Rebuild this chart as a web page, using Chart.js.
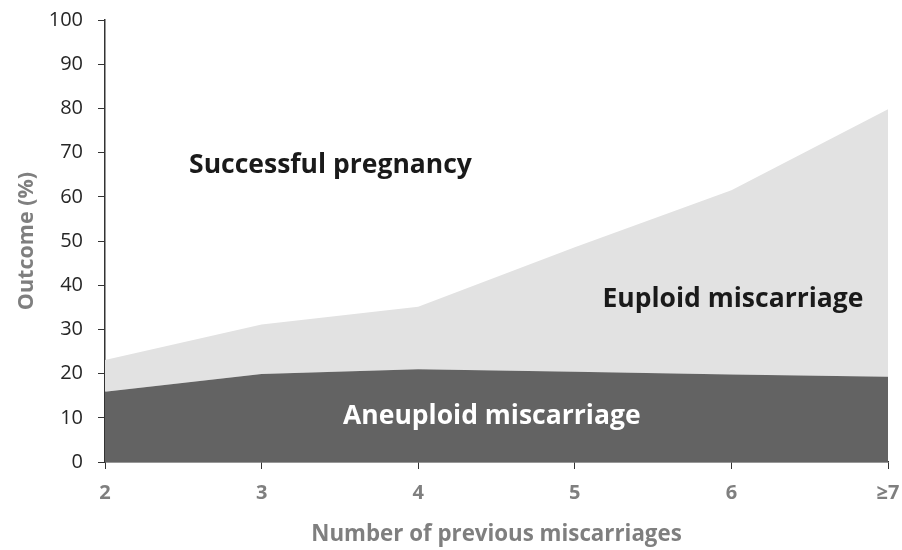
<!DOCTYPE html>
<html lang="en">
<head>
    <meta charset="UTF-8">
    <title>Outcome by number of previous miscarriages</title>
    <script src="https://cdn.jsdelivr.net/npm/chart.js"></script>
    <style>
        html, body { margin: 0; padding: 0; background: #fff; }
        #chart { display: block; }
    </style>
</head>
<body>
    <canvas id="chart" width="902" height="550"></canvas>
    <script>
        // values (%)
        const categories = ['2', '3', '4', '5', '6', '\u22657'];
        const aneuploid = [15.9, 19.9, 21.0, 20.4, 19.8, 19.3];
        const euploid = [7.2, 11.2, 14.1, 28.2, 41.7, 60.5];
        const yTicks = [0, 10, 20, 30, 40, 50, 60, 70, 80, 90, 100];

        // region labels drawn inside the plot (x = category index, y = %)
        const regionLabels = [
            { text: 'Successful pregnancy', x: 1.44, y: 67.2, color: '#1a1a1a' },
            { text: 'Euploid miscarriage', x: 4.01, y: 36.7, color: '#1a1a1a' },
            { text: 'Aneuploid miscarriage', x: 2.47, y: 10.4, color: '#ffffff' }
        ];

        const FONT = "'Open Sans', sans-serif";
        const GREY = '#7f7f7f';

        const labelPlugin = {
            id: 'regionLabels',
            afterDatasetsDraw(chart) {
                const { ctx, scales } = chart;
                ctx.save();
                ctx.font = 'bold 26.5px ' + FONT;
                ctx.textAlign = 'center';
                ctx.textBaseline = 'middle';
                regionLabels.forEach(l => {
                    ctx.fillStyle = l.color;
                    ctx.fillText(l.text, scales.x.getPixelForValue(l.x), scales.y.getPixelForValue(l.y));
                });
                ctx.restore();
            }
        };

        new Chart(document.getElementById('chart'), {
            type: 'line',
            data: {
                labels: categories,
                datasets: [
                    {
                        label: 'Aneuploid miscarriage',
                        data: aneuploid,
                        backgroundColor: '#636363',
                        borderWidth: 0,
                        pointRadius: 0,
                        fill: 'origin',
                        tension: 0
                    },
                    {
                        label: 'Euploid miscarriage',
                        data: euploid,
                        backgroundColor: '#e2e2e2',
                        borderWidth: 0,
                        pointRadius: 0,
                        fill: '-1',
                        tension: 0
                    }
                ]
            },
            options: {
                responsive: false,
                animation: false,
                layout: { padding: { left: 0, right: 14, top: 20, bottom: 0 } },
                plugins: {
                    legend: { display: false },
                    tooltip: { enabled: false }
                },
                scales: {
                    x: {
                        offset: false,
                        grid: {
                            display: true,
                            drawOnChartArea: false,
                            drawTicks: true,
                            tickLength: 7,
                            color: '#333'
                        },
                        border: { display: true, color: '#333', width: 1.5 },
                        ticks: {
                            color: GREY,
                            padding: 12,
                            font: { family: FONT, size: 20, weight: 'bold' }
                        },
                        title: {
                            display: true,
                            text: 'Number of previous miscarriages',
                            color: GREY,
                            padding: { top: 0, bottom: 2 },
                            font: { family: FONT, size: 22.3, weight: 'bold' }
                        },
                        afterFit(scale) {
                            scale.height = 88;
                            scale.paddingLeft = 0;
                            scale.paddingRight = 0;
                        }
                    },
                    y: {
                        stacked: true,
                        min: 0,
                        max: 100,
                        grid: {
                            display: true,
                            drawOnChartArea: false,
                            drawTicks: true,
                            tickLength: 7,
                            color: '#333'
                        },
                        border: { display: true, color: '#333', width: 1.5 },
                        afterBuildTicks(scale) {
                            scale.ticks = yTicks.map(v => ({ value: v }));
                        },
                        ticks: {
                            color: '#262626',
                            padding: 15,
                            font: { family: FONT, size: 20 }
                        },
                        title: {
                            display: true,
                            text: 'Outcome (%)',
                            color: GREY,
                            padding: { top: 14, bottom: 0 },
                            font: { family: FONT, size: 21.5, weight: 'bold' }
                        },
                        afterFit(scale) {
                            scale.width = 105;
                            scale.paddingTop = 0;
                            scale.paddingBottom = 0;
                        }
                    }
                }
            },
            plugins: [labelPlugin]
        });
    </script>
</body>
</html>
